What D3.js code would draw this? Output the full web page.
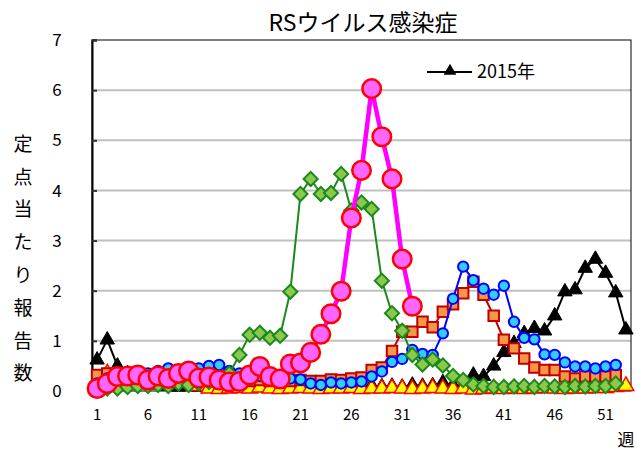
<!DOCTYPE html>
<html><head><meta charset="utf-8">
<script src="https://cdn.jsdelivr.net/npm/d3@7"></script>
<style>body{margin:0;background:#fff}svg{display:block}</style>
</head><body>
<svg id="c" width="637" height="450"></svg>
<script>
const weeks = d3.range(1, 54);
const xTickLabels = [1, 6, 11, 16, 21, 26, 31, 36, 41, 46, 51];
const yTicks = [0, 1, 2, 3, 4, 5, 6, 7];
const title = "RSウイルス感染症";
const yTitle = "定点当たり報告数";
const xUnit = "週";
const legendLabel = "2015年";

const s2015 = [0.62,1.02,0.5,0.35,0.25,0.2,0.12,0.1,0.08,0.1,0.08,0.09,0.07,0.1,0.08,0.09,0.07,0.1,0.08,0.1,0.09,0.1,0.08,0.11,0.09,0.1,0.08,0.11,0.09,0.1,0.08,0.12,0.1,0.11,0.17,0.12,0.1,0.32,0.29,0.5,0.77,0.95,1.15,1.25,1.2,1.5,1.98,2.02,2.45,2.63,2.35,1.96,1.22];
const sYellow = [0.2,0.35,0.3,0.25,0.22,0.2,0.2,0.22,0.2,0.18,0.1,0.05,0.04,0.05,0.06,0.05,0.07,0.05,0.04,0.05,0.06,0.05,0.04,0.05,0.05,0.06,0.04,0.05,0.05,0.06,0.05,0.04,0.05,0.06,0.05,0.04,0.05,0.03,0.04,0.05,0.04,0.05,0.04,0.05,0.06,0.05,0.04,0.05,0.05,0.06,0.06,0.08,0.1];
const sOrange = [0.32,0.35,0.35,0.33,0.3,0.3,0.3,0.28,0.28,0.3,0.25,0.25,0.22,0.22,0.2,0.2,0.22,0.2,0.2,0.2,0.22,0.2,0.2,0.23,0.22,0.25,0.27,0.42,0.47,0.8,1.18,1.18,1.38,1.27,1.58,1.73,1.95,2.18,1.92,1.5,1.02,0.85,0.65,0.47,0.42,0.42,0.29,0.25,0.29,0.29,0.29,0.32,null];
const sBlue = [0.15,0.25,0.3,0.3,0.3,0.35,0.4,0.45,0.4,0.4,0.45,0.5,0.52,0.4,0.35,0.35,0.3,0.3,0.28,0.25,0.23,0.15,0.12,0.17,0.15,0.17,0.19,0.29,0.39,0.58,0.64,0.82,0.74,0.72,1.15,1.84,2.48,2.21,2.04,1.92,2.1,1.38,1.06,1.03,0.73,0.72,0.57,0.49,0.49,0.45,0.49,0.52,null];
const sGreen = [0.1,0.05,0.05,0.08,0.1,0.1,0.12,0.1,0.15,0.12,0.15,0.18,0.2,0.35,0.72,1.12,1.16,1.06,1.1,1.98,3.93,4.23,3.93,3.95,4.33,3.6,3.76,3.63,2.2,1.55,1.2,0.72,0.53,0.63,0.51,0.3,0.22,0.13,0.1,0.08,0.08,0.09,0.1,0.08,0.1,0.09,0.08,0.1,0.09,0.1,0.1,0.15,null];
const sMagenta = [0.05,0.15,0.29,0.3,0.32,0.22,0.3,0.25,0.35,0.4,0.26,0.28,0.22,0.18,0.19,0.32,0.49,0.29,0.24,0.54,0.56,0.77,1.13,1.54,1.99,3.45,4.4,6.03,5.07,4.23,2.63,1.69,null,null,null,null,null,null,null,null,null,null,null,null,null,null,null,null,null,null,null,null,null];

const svg = d3.select("#c");
const L = 92, R = 631, T = 40, B = 391;
const x = d3.scaleLinear().domain([0.5, 53.5]).range([L, R]);
const y = d3.scaleLinear().domain([0, 7]).range([B, T]);
const jp = "'Noto Sans CJK JP','Noto Sans',sans-serif";

svg.append("g").selectAll("line").data(yTicks.filter(d => d > 0 && d < 7)).join("line")
  .attr("x1", L).attr("x2", R).attr("y1", d => y(d)).attr("y2", d => y(d))
  .attr("stroke", "#c0c0c0").attr("stroke-width", 2);

svg.append("rect").attr("x", L).attr("y", T).attr("width", R - L).attr("height", B - T)
  .attr("fill", "none").attr("stroke", "#000").attr("stroke-width", 1);

const yAxis = svg.append("g").attr("transform", `translate(${L},0)`)
  .call(d3.axisRight(y).tickValues(yTicks).tickSize(5).tickFormat(""));
yAxis.select(".domain").attr("stroke", "#000").attr("stroke-width", 2);
yAxis.selectAll(".tick line").attr("stroke", "#333").attr("stroke-width", 2);
svg.append("g").selectAll("text").data(yTicks).join("text")
  .attr("x", 57).attr("y", d => y(d)).attr("dy", "0.36em")
  .attr("text-anchor", "middle").attr("font-family", jp).attr("font-size", 17)
  .text(d => d);

svg.append("g").selectAll("text").data(xTickLabels).join("text")
  .attr("x", d => x(d)).attr("y", 420).attr("text-anchor", "middle")
  .attr("font-family", jp).attr("font-size", 15).text(d => d);
svg.append("text").attr("x", 626).attr("y", 446).attr("text-anchor", "middle")
  .attr("font-family", jp).attr("font-size", 17).text(xUnit);

svg.append("text").attr("x", 363).attr("y", 31).attr("text-anchor", "middle")
  .attr("font-family", jp).attr("font-size", 23).text(title);

svg.append("g").selectAll("text").data(Array.from(yTitle)).join("text")
  .attr("x", 23).attr("y", (d, i) => 144 + i * 32.8).attr("dy", "0.36em")
  .attr("text-anchor", "middle").attr("font-family", jp).attr("font-size", 19).text(d => d);

const line = d3.line().defined(d => d[1] != null).x(d => x(d[0])).y(d => y(d[1]));
function series(vals, color, width, sym, size, fill, stroke, sw, rot) {
  const pts = weeks.map((w, i) => [w, vals[i]]);
  const g = svg.append("g");
  g.append("path").datum(pts).attr("d", line).attr("fill", "none")
    .attr("stroke", color).attr("stroke-width", width).attr("stroke-linejoin", "round");
  g.selectAll("path.m").data(pts.filter(d => d[1] != null)).join("path").attr("class", "m")
    .attr("transform", d => `translate(${x(d[0])},${y(d[1])}) rotate(${rot || 0})`)
    .attr("d", d3.symbol().type(sym).size(size))
    .attr("fill", fill).attr("stroke", stroke).attr("stroke-width", sw);
}
series(s2015, "#000", 2, d3.symbolTriangle, 90, "#000", "#000", 1);
series(sYellow, "#ff0000", 1.5, d3.symbolTriangle, 105, "#ffff00", "#ff0000", 1.5);
series(sOrange, "#c00000", 2, d3.symbolSquare, 110, "#f79646", "#c00000", 2);
series(sBlue, "#0000ff", 2, d3.symbolCircle, 85, "#33ccff", "#0000ff", 2);
series(sGreen, "#1a8a1a", 2, d3.symbolSquare, 100, "#8cc84b", "#1a8a1a", 2, 45);
series(sMagenta, "#ff00ff", 4.5, d3.symbolCircle, 270, "#ff66ff", "#ff0000", 2.5);

const lg = svg.append("g");
lg.append("line").attr("x1", 427).attr("x2", 472).attr("y1", 72).attr("y2", 72)
  .attr("stroke", "#000").attr("stroke-width", 2);
lg.append("path").attr("transform", "translate(450,71)")
  .attr("d", d3.symbol().type(d3.symbolTriangle).size(70)).attr("fill", "#000");
lg.append("text").attr("x", 477).attr("y", 72).attr("dy", "0.36em")
  .attr("font-family", jp).attr("font-size", 18).text(legendLabel);
</script>
</body></html>
